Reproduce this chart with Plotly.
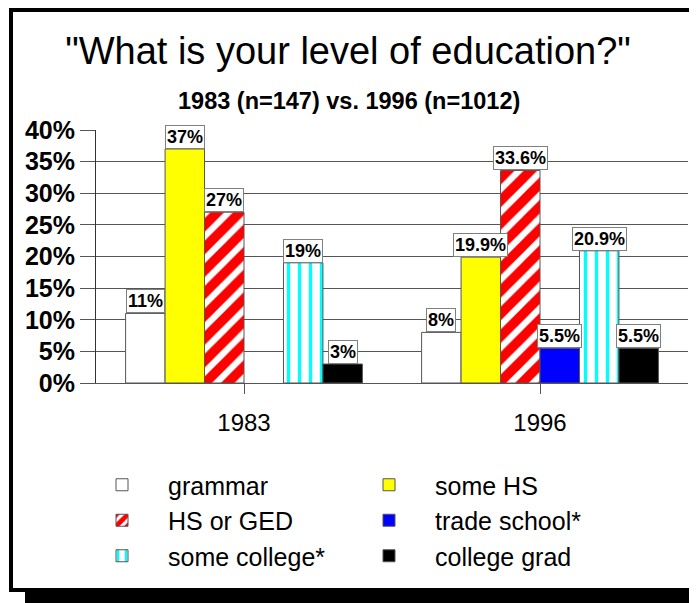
import plotly.graph_objects as go

# the page has an 8px body margin, so the figure is 8px smaller than the window
OFF = 8
W, H = 697 - OFF, 603 - OFF
# plot area, in reference-picture pixels: x 96..688, y 130..383
L, R, T, B = 96 - OFF, 697 - 688, 130 - OFF, 603 - 383

years = ["1983", "1996"]
levels = ["grammar", "some HS", "HS or GED", "trade school*", "some college*", "college grad"]
pct_1983 = [11, 37, 27, None, 19, 3]
pct_1996 = [8, 19.9, 33.6, 5.5, 20.9, 5.5]

colors = ["#FFFFFF", "#FFFF00", "#FFFFFF", "#0000FF", "#FFFFFF", "#000000"]
patterns = {
    "HS or GED": dict(shape="/", fgcolor="#FF0000", bgcolor="#FFFFFF", fgopacity=1,
                      size=16, solidity=0.6),
    "some college*": dict(shape="|", fgcolor="#00FFFF", bgcolor="#FFFFFF", fgopacity=1,
                          size=11, solidity=0.3),
}

FONT = "Liberation Sans, Arial, sans-serif"
PW, PH = W - L - R, H - T - B


def px(x):
    # reference pixel x -> paper fraction
    return (x - OFF - L) / PW


def py(y):
    # reference pixel y -> paper fraction
    return (H - B - (y - OFF)) / PH


fig = go.Figure()

for i, name in enumerate(levels):
    marker = dict(color=colors[i], line=dict(color="#555555", width=1))
    if name in patterns:
        marker["pattern"] = patterns[name]
    fig.add_trace(go.Bar(x=years, y=[pct_1983[i], pct_1996[i]], name=name, marker=marker))

# boxed value labels above each bar (x given as category index: "1983" would be read as an index)
bar_w = PW / len(years) * 0.8 / len(levels)
for j, vals in enumerate([pct_1983, pct_1996]):
    for i, v in enumerate(vals):
        if v is None:
            continue
        fig.add_annotation(
            x=j, y=v, text=f"<b>{v:g}%</b>", showarrow=False,
            xshift=(i - 2.5) * bar_w, yanchor="bottom",
            font=dict(family=FONT, size=18, color="black"),
            bgcolor="white", bordercolor="#808080", borderwidth=1, borderpad=1,
        )

fig.add_annotation(
    x=px(349), y=py(101), xref="paper", yref="paper", xanchor="center", yanchor="middle",
    text="<b>1983 (n=147) vs. 1996 (n=1012)</b>", showarrow=False,
    font=dict(family=FONT, size=23.5, color="black"),
)

# frame with drop shadow
fig.add_shape(type="rect", xref="paper", yref="paper", layer="below",
              x0=px(25), x1=px(720), y0=py(20), y1=py(625),
              fillcolor="black", line=dict(width=0))
fig.add_shape(type="rect", xref="paper", yref="paper", layer="below",
              x0=px(11), x1=px(692), y0=py(10), y1=py(590),
              fillcolor="white", line=dict(color="black", width=4))

fig.update_layout(
    width=W, height=H,
    margin=dict(l=L, r=R, t=T, b=B),
    paper_bgcolor="white", plot_bgcolor="rgba(0,0,0,0)",
    barmode="group", bargap=0.2, bargroupgap=0,
    font=dict(family=FONT, color="black"),
    title=dict(text='"What is your level of education?"', x=px(348), xanchor="center",
               xref="paper", y=1 - (51 - OFF) / H, yanchor="middle",
               font=dict(family=FONT, size=38, color="black")),
    legend=dict(orientation="h", x=px(76), y=py(462), xanchor="left", yanchor="top",
                itemwidth=82, entrywidth=170, entrywidthmode="pixels",
                bgcolor="rgba(0,0,0,0)", traceorder="normal",
                font=dict(family=FONT, size=25, color="black")),
    xaxis=dict(type="category", categoryorder="array", categoryarray=years,
               range=[-0.5, 1.5], showline=True, linecolor="#555555", ticks="outside",
               ticklen=10, tickcolor="#555555", ticklabelstandoff=8,
               tickfont=dict(family=FONT, size=24, color="black")),
    yaxis=dict(range=[0, 40], dtick=5, ticksuffix="%", showgrid=True, gridcolor="#555555",
               showline=True, linecolor="#333333", ticks="outside", ticklen=15,
               tickcolor="#555555", zeroline=False,
               tickfont=dict(family=FONT, size=25, color="black", weight="bold")),
)

fig.write_html("out.html")
